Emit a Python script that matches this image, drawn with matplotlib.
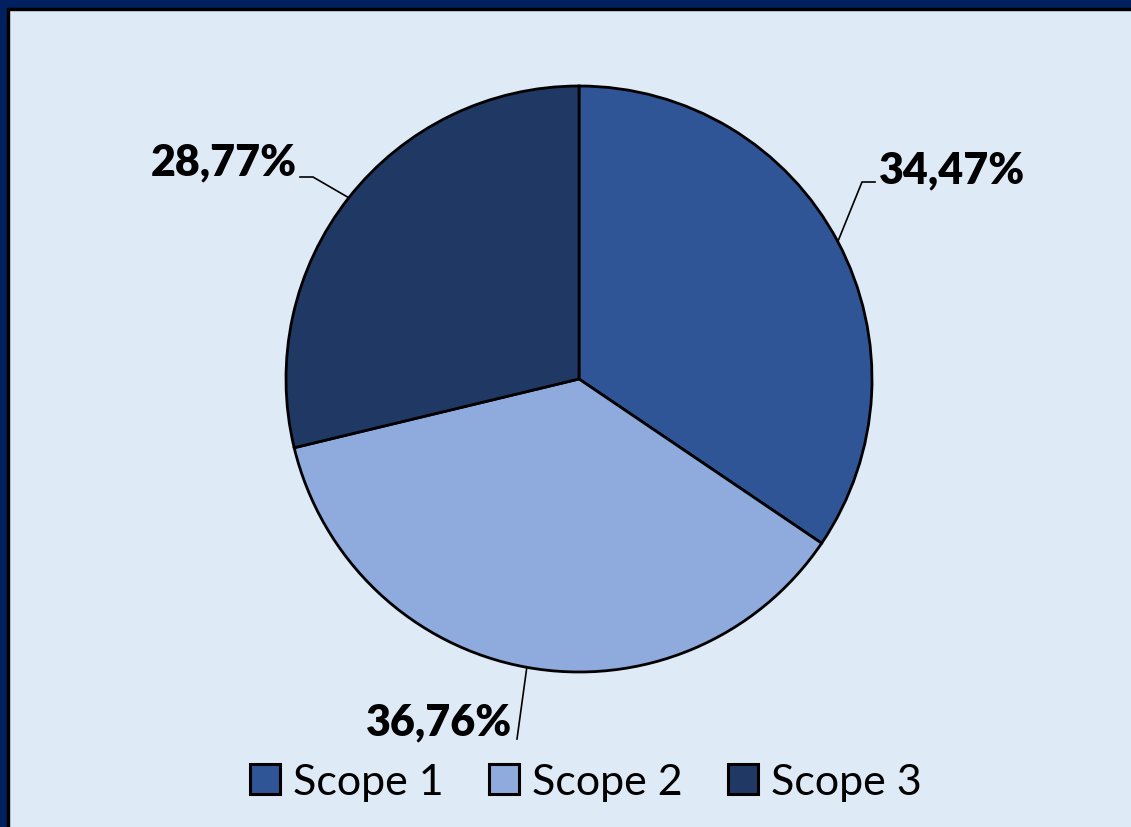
import numpy as np
import matplotlib.pyplot as plt
from matplotlib.patches import Rectangle
from matplotlib.lines import Line2D

# Emission shares per scope (percent)
LABELS = ["Scope 1", "Scope 2", "Scope 3"]
VALUES = [34.47, 36.76, 28.77]
VALUE_TEXT = ["34,47%", "36,76%", "28,77%"]
COLORS = ["#2F5597", "#8FAADC", "#203864"]

BG = "#DEEAF6"
NAVY = "#002060"

W, H = 1131, 828
fig = plt.figure(figsize=(W / 100, H / 100), dpi=100, facecolor=BG)
ax = fig.add_axes([0, 0, 1, 1])

# frame: navy band on top/left with a thin black inner line
ax.add_patch(Rectangle((0, 0), 7, H, color=NAVY, zorder=5))
ax.add_patch(Rectangle((0, H - 9), W, 9, color=NAVY, zorder=5))
ax.add_patch(Rectangle((7, 0), 2, H - 9, color="black", zorder=5))
ax.add_patch(Rectangle((7, H - 11), W - 7, 2, color="black", zorder=5))

cx, cy, r = 579, H - 380, 293
wedges, _ = ax.pie(VALUES, colors=COLORS, startangle=90, counterclock=False,
                   center=(cx, cy), radius=r, frame=True,
                   wedgeprops=dict(edgecolor="black", linewidth=2.0))
ax.set_xlim(0, W)
ax.set_ylim(0, H)
ax.set_aspect("equal")
ax.axis("off")

# data labels with leader lines (elbow point, line end, text anchor)
label_pos = [
    ((862, H - 183), (875, H - 183), (879, H - 170), "left"),
    ((517, H - 740), (517, H - 740), (512, H - 722), "right"),
    ((313, H - 178), (300, H - 178), (297, H - 162), "right"),
]
for w, txt, (elbow, end, tpos, ha) in zip(wedges, VALUE_TEXT, label_pos):
    ang = np.deg2rad((w.theta1 + w.theta2) / 2)
    px, py = cx + r * np.cos(ang), cy + r * np.sin(ang)
    ax.plot([px, elbow[0], end[0]], [py, elbow[1], end[1]],
            color="black", lw=1.2, zorder=3)
    ax.text(tpos[0], tpos[1], txt, ha=ha, va="center", fontsize=31,
            fontweight="heavy", family="Lato", color="black")

handles = [Line2D([], [], marker="s", linestyle="none", markersize=21,
                  markerfacecolor=c, markeredgecolor="black", markeredgewidth=2.2)
           for c in COLORS]
fig.legend(handles, LABELS, loc="center", bbox_to_anchor=(585 / W, 1 - 783 / H),
           ncol=3, frameon=False, prop=dict(family="Lato", size=31),
           handletextpad=0.25, columnspacing=1.0, handlelength=0.8)

fig.savefig("out.png", dpi=100, facecolor=BG)
